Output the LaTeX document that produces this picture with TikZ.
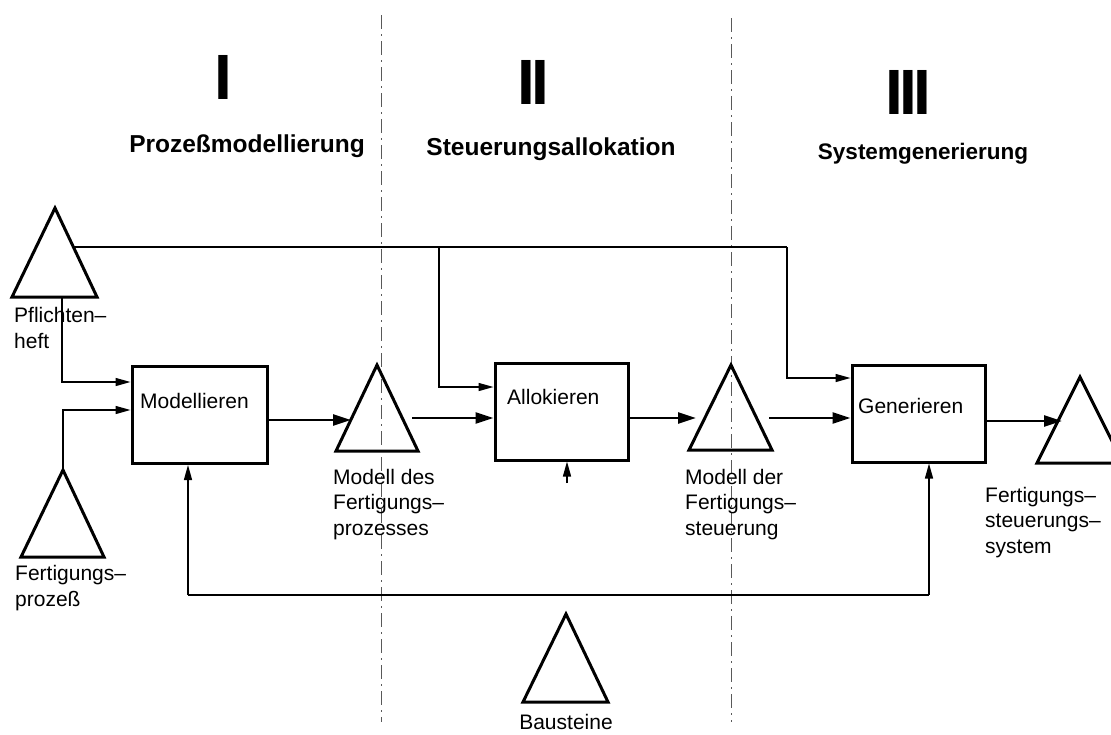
\documentclass[tikz,border=0pt]{standalone}
\usepackage{fontspec}
\setmainfont{Liberation Sans}
\usetikzlibrary{arrows.meta}

\tikzset{
  lbl/.style={font=\fontsize{21}{25.5}\selectfont, align=left, inner sep=0pt, anchor=base west},
  head/.style={font=\fontsize{#1}{28}\selectfont\bfseries, inner sep=0pt, anchor=base},
  numeral/.style={font=\fontsize{64}{64}\selectfont\bfseries, inner sep=0pt, anchor=base},
  proc/.style={draw, line width=3pt, inner sep=0pt, minimum width=#1, minimum height=97pt},
  store/.style={line width=3pt, line join=miter},
  flow/.style={line width=2.6pt, -{Triangle[length=18pt,width=11pt]}},
  feed/.style={line width=1.4pt, -{Triangle[length=15pt,width=8pt]}},
  wire/.style={line width=1.4pt},
  divider/.style={line width=0.8pt, dash pattern=on 14pt off 5pt on 2pt off 5pt, gray!70!black},
}

\begin{document}
\begin{tikzpicture}[x=1pt, y=-1pt]
  \useasboundingbox (0,0) rectangle (1111,734);
  \clip (0,0) rectangle (1111,734);

  % phase dividers
  \draw[divider] (381,15) -- (381,722);
  \draw[divider] (731,18) -- (731,722);

  % phase numerals and titles
  \node[numeral] (n1) at (223.5,99) {I};
  \node[numeral] (n2) at (533,104) {I\kern-4pt I};
  \node[numeral] (n3) at (908.5,114) {I\kern-4pt I\kern-4pt I};
  \node[head=24.5] (h1) at (247,152) {Prozeßmodellierung};
  \node[head=24.5] (h2) at (551,155) {Steuerungsallokation};
  \node[head=22.5] (h3) at (923,159) {Systemgenerierung};

  % activity boxes
  \node[proc=135pt] (mod) at (199.5,415) {};
  \node[proc=133pt] (all) at (561.5,411.5) {};
  \node[proc=133pt] (gen) at (918.5,413.5) {};
  \node[lbl] (modt) at (140,408) {Modellieren};
  \node[lbl] (allt) at (507,404) {Allokieren};
  \node[lbl] (gent) at (858,413) {Generieren};

  % data stores (triangles)
  \draw[store] (55,208) -- (97,297) -- (12,297) -- cycle;
  \draw[store] (63,470) -- (104,557) -- (21,557) -- cycle;
  \draw[store] (377,365) -- (418,451) -- (336,451) -- cycle;
  \draw[store] (731,365) -- (772,450) -- (689,450) -- cycle;
  \draw[store] (1080,377) -- (1123,463) -- (1037,463) -- cycle;
  \draw[store] (566,614) -- (608,702) -- (523,702) -- cycle;

  % anchor points on the triangles
  \coordinate (pfR) at (74,247);
  \coordinate (pfB) at (62,297);
  \coordinate (fpT) at (63,470);
  \coordinate (mpL) at (351,420);
  \coordinate (mpR) at (412,418);
  \coordinate (msL) at (696,418);
  \coordinate (msR) at (769,418);
  \coordinate (fsL) at (1062,421);
  \coordinate (allS) at (567,483);

  % store labels (positioned by the baseline of their last line)
  \node[lbl] (pft) at (14,348) {Pflichten–\\heft};
  \node[lbl] (fpt) at (15,606) {Fertigungs–\\prozeß};
  \node[lbl] (mpt) at (333,535) {Modell des\\Fertigungs–\\prozesses};
  \node[lbl] (mst) at (685,535) {Modell der\\Fertigungs–\\steuerung};
  \node[lbl] (fst) at (985,553) {Fertigungs–\\steuerungs–\\system};
  \node[lbl, anchor=base] (bst) at (566,729) {Bausteine};

  % main flow
  \draw[flow] (mod.east |- mpL) -- (mpL);
  \draw[flow] (mpR) -- (all.west |- mpR);
  \draw[flow] (all.east |- msL) -- (msL);
  \draw[flow] (msR) -- (gen.west |- msR);
  \draw[flow] (gen.east |- fsL) -- (fsL);

  % inputs to Modellieren
  \draw[feed] (pfB) |- ([yshift=33pt]mod.west);
  \draw[feed] (fpT) |- ([yshift=5pt]mod.west);

  % specification line to Allokieren and Generieren
  \draw[wire] (pfR) -- (787,247);
  \draw[feed] (439,247) |- ([yshift=24.5pt]all.west);
  \draw[feed] (787,247) |- ([yshift=35.5pt]gen.west);

  % building-block return line
  \draw[feed] (188,595) -- (mod.south -| 188,0);
  \draw[wire] (188,595) -- (929,595);
  \draw[feed] (929,595) -- (gen.south -| 929,0);
  \draw[feed] (allS) -- (all.south -| allS);
\end{tikzpicture}
\end{document}
